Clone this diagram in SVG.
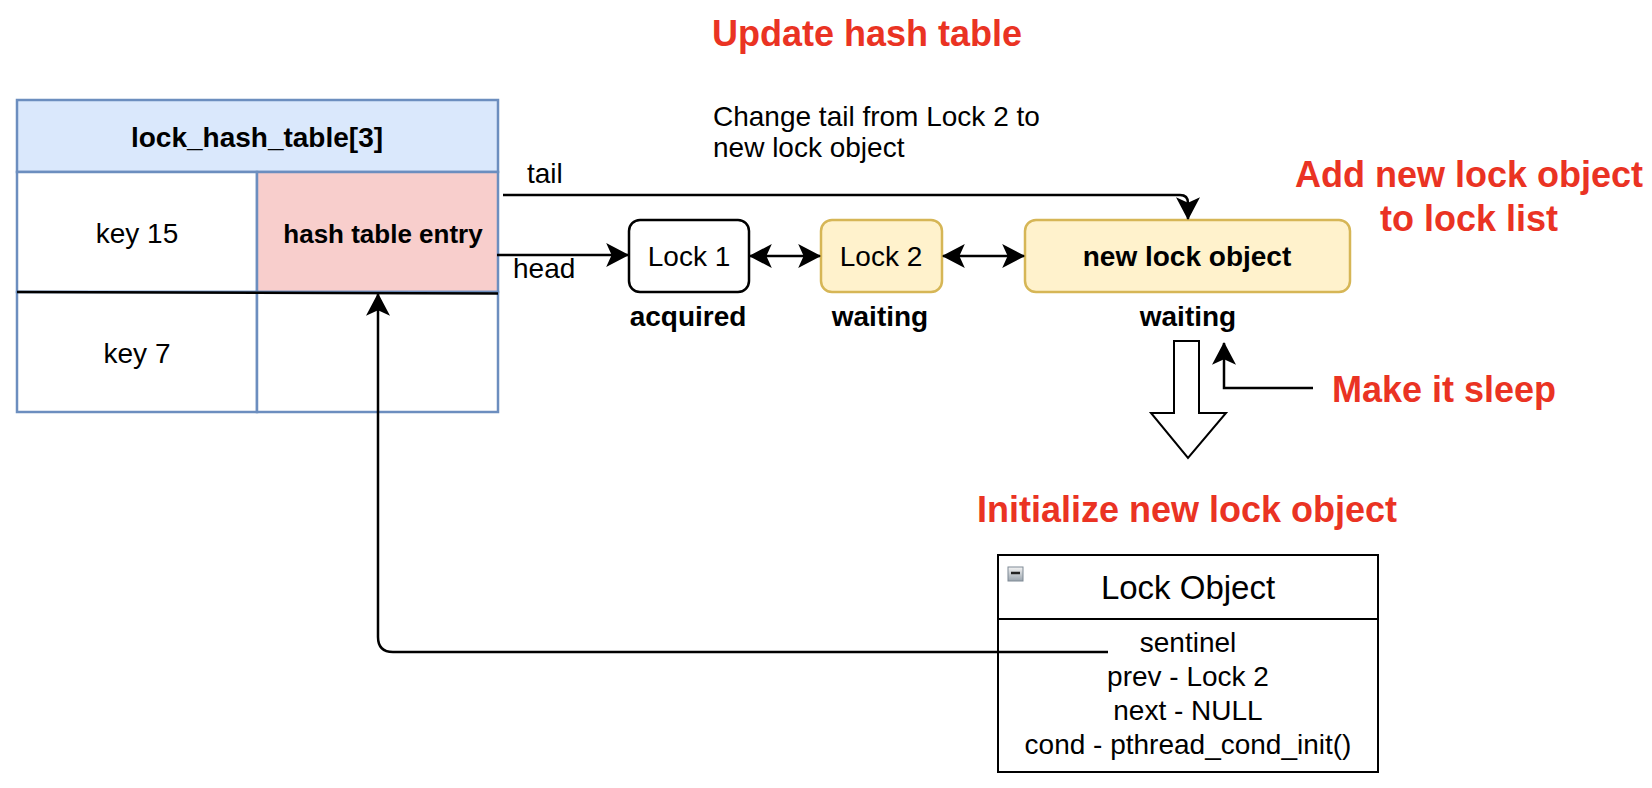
<svg xmlns="http://www.w3.org/2000/svg" width="1652" height="788" viewBox="0 0 1652 788">
<defs>
<style>
text{font-family:"Liberation Sans",Arial,Helvetica,sans-serif;fill:#000}
.n{font-size:28px}
.b{font-size:28px;font-weight:bold}
.c{text-anchor:middle}
.red{font-size:36px;font-weight:bold;fill:#EA3323}
.ln{fill:none;stroke:#000;stroke-width:2.5}
.blue{stroke:#6C8EBF;stroke-width:2.5}
.yel{fill:#FFF2CC;stroke:#D6B656;stroke-width:2.5}
</style>
<marker id="ah" markerUnits="userSpaceOnUse" markerWidth="24" markerHeight="24" viewBox="0 0 22 22" refX="20" refY="11" orient="auto-start-reverse">
<path d="M0,0 L21,11 L0,22 L5,11 z" fill="#000"/>
</marker>
<linearGradient id="ig" x1="0" y1="0" x2="0" y2="1"><stop offset="0" stop-color="#f4f4f4"/><stop offset="1" stop-color="#9aa4ae"/></linearGradient>
</defs>

<g id="hash-table">
<rect x="17" y="100" width="481" height="72" fill="#DAE8FC" class="blue"/>
<rect x="17" y="172" width="240" height="120" fill="#fff" class="blue"/>
<rect x="257" y="172" width="241" height="120" fill="#F8CECC" class="blue"/>
<rect x="17" y="292" width="240" height="120" fill="#fff" class="blue"/>
<rect x="257" y="292" width="241" height="120" fill="#fff" class="blue"/>
<line x1="17" y1="292" x2="498" y2="293.5" stroke="#000" stroke-width="2.5"/>
<text x="257" y="147" class="b c">lock_hash_table[3]</text>
<text x="137" y="243" class="n c">key 15</text>
<text x="383" y="243" class="c" style="font-size:26px;font-weight:bold">hash table entry</text>
<text x="137" y="363" class="n c">key 7</text>
</g>

<g id="lock1">
<rect x="629" y="220" width="120" height="72" rx="11" fill="#fff" stroke="#000" stroke-width="2.5"/>
<text x="689" y="266" class="n c">Lock 1</text>
<text x="688" y="326" class="b c">acquired</text>
</g>

<g id="lock2">
<rect x="821" y="220" width="121" height="72" rx="11" class="yel"/>
<text x="881" y="266" class="n c">Lock 2</text>
<text x="880" y="326" class="b c">waiting</text>
</g>

<g id="new-lock">
<rect x="1025" y="220" width="325" height="72" rx="11" class="yel"/>
<text x="1187" y="266" class="b c">new lock object</text>
<text x="1188" y="326" class="b c">waiting</text>
</g>

<g id="lock-object">
<rect x="998" y="555" width="380" height="217" fill="#fff" stroke="#000" stroke-width="2"/>
<line x1="998" y1="619" x2="1378" y2="619" stroke="#000" stroke-width="2"/>
<rect x="1008" y="567" width="15" height="14" fill="url(#ig)" stroke="#7f8a95" stroke-width="1"/>
<line x1="1011" y1="573" x2="1020" y2="573" stroke="#222" stroke-width="2.5"/>
<text x="1188" y="599" class="c" style="font-size:33px">Lock Object</text>
<text x="1188" y="652" class="n c">sentinel</text>
<text x="1188" y="686" class="n c">prev - Lock 2</text>
<text x="1188" y="720" class="n c">next - NULL</text>
<text x="1188" y="754" class="n c">cond - pthread_cond_init()</text>
</g>

<g id="labels">
<text x="867" y="46" class="red c">Update hash table</text>
<text x="713" y="126" class="n">Change tail from Lock 2 to</text>
<text x="713" y="157" class="n">new lock object</text>
<text x="1469" y="187" class="red c">Add new lock object</text>
<text x="1469" y="231" class="red c">to lock list</text>
<text x="1332" y="402" class="red">Make it sleep</text>
<text x="1187" y="522" class="red c">Initialize new lock object</text>
<text x="527" y="183" class="n">tail</text>
<text x="513" y="278" class="n">head</text>
</g>

<g id="connectors">
<path class="ln" d="M503,195 H1180 Q1188,195 1188,203 V219" marker-end="url(#ah)"/>
<path class="ln" d="M497,255 H628" marker-end="url(#ah)"/>
<path class="ln" d="M750,256 H820" marker-start="url(#ah)" marker-end="url(#ah)"/>
<path class="ln" d="M943,256 H1024" marker-start="url(#ah)" marker-end="url(#ah)"/>
<path class="ln" d="M1108,652 H393 Q378,652 378,637 V294" marker-end="url(#ah)"/>
<path class="ln" d="M1313,388 H1224 V343" marker-end="url(#ah)"/>
<polygon points="1174,341 1199,341 1199,413 1226,413 1188,458 1151,413 1174,413" fill="#fff" stroke="#000" stroke-width="2"/>
</g>
</svg>
